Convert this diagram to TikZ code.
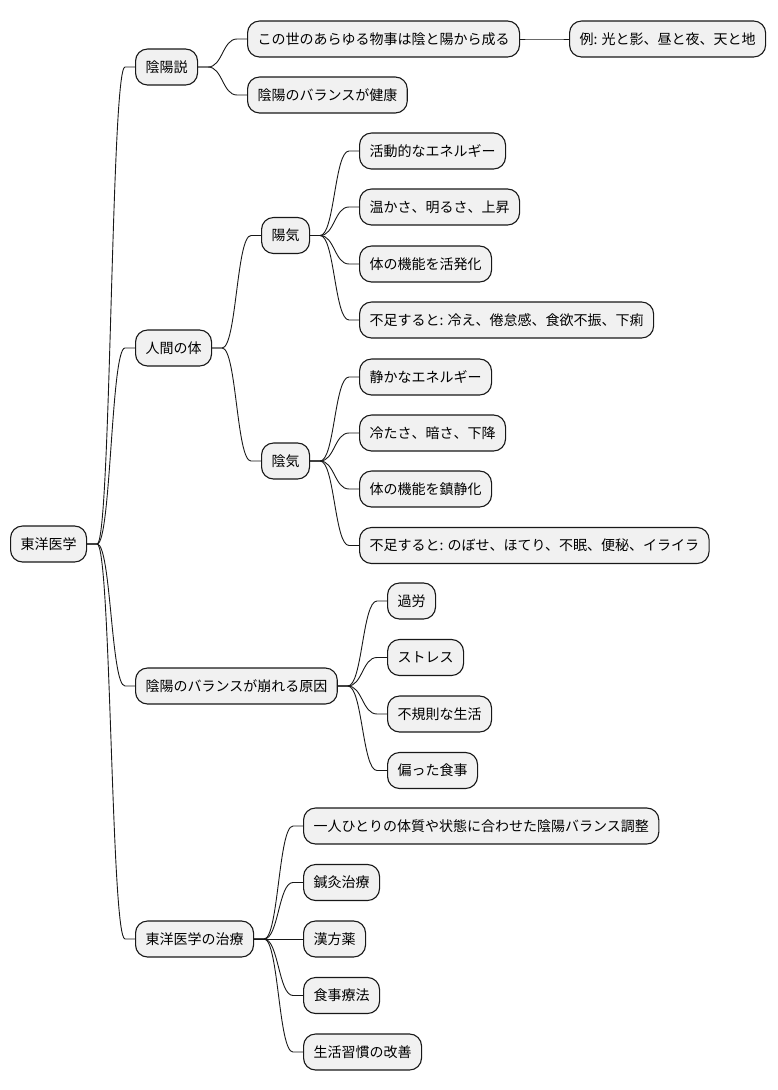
\documentclass[tikz,border=0pt]{standalone}
\usepackage{fontspec}
\setmainfont{Noto Sans CJK JP}
\usetikzlibrary{calc}
\definecolor{nodefill}{HTML}{F1F1F1}
\definecolor{edgecol}{HTML}{181818}
\tikzset{
  mm/.style={draw=edgecol, fill=nodefill, line width=1.1pt, rounded corners=12pt,
    minimum height=36pt, inner xsep=10pt, inner ysep=0pt, text height=12pt, text depth=2pt,
    anchor=west, font=\fontsize{14}{17}\selectfont},
  conn/.style={draw=edgecol, line width=0.9pt}
}
\newcommand\mmlink[2]{%
  \coordinate (lA) at ([xshift=10pt]#1.east);
  \coordinate (lB) at ([xshift=-10pt]#2.west);
  \coordinate (lM) at ($(lA)!0.5!(lB)$);
  \draw[conn] (#1.east) -- (lA) .. controls (lM|-lA) and (lM|-lB) .. (lB) -- (#2.west);}
\begin{document}
\begin{tikzpicture}[x=1pt,y=-1pt]
\useasboundingbox (0,0) rectangle (778,1090);
\node[mm] (root) at (10,544) {東洋医学};
\node[mm] (yys) at (135,67) {陰陽説};
\node[mm] (yys1) at (247,39) {この世のあらゆる物事は陰と陽から成る};
\node[mm] (yys1a) at (569,39) {例: 光と影、昼と夜、天と地};
\node[mm] (yys2) at (247,95) {陰陽のバランスが健康};
\node[mm] (body) at (135,348) {人間の体};
\node[mm] (yang) at (261,235.5) {陽気};
\node[mm] (yang1) at (359,151) {活動的なエネルギー};
\node[mm] (yang2) at (359,207) {温かさ、明るさ、上昇};
\node[mm] (yang3) at (359,264) {体の機能を活発化};
\node[mm] (yang4) at (359,320) {不足すると: 冷え、倦怠感、食欲不振、下痢};
\node[mm] (yin) at (261,461) {陰気};
\node[mm] (yin1) at (359,377) {静かなエネルギー};
\node[mm] (yin2) at (359,433) {冷たさ、暗さ、下降};
\node[mm] (yin3) at (359,489) {体の機能を鎮静化};
\node[mm] (yin4) at (359,545.5) {不足すると: のぼせ、ほてり、不眠、便秘、イライラ};
\node[mm] (cause) at (135,686) {陰陽のバランスが崩れる原因};
\node[mm] (c1) at (387,601) {過労};
\node[mm] (c2) at (387,657.5) {ストレス};
\node[mm] (c3) at (387,714) {不規則な生活};
\node[mm] (c4) at (387,770.5) {偏った食事};
\node[mm] (treat) at (135,939) {東洋医学の治療};
\node[mm] (t1) at (303,826) {一人ひとりの体質や状態に合わせた陰陽バランス調整};
\node[mm] (t2) at (303,882.5) {鍼灸治療};
\node[mm] (t3) at (303,939) {漢方薬};
\node[mm] (t4) at (303,995.5) {食事療法};
\node[mm] (t5) at (303,1052) {生活習慣の改善};
\mmlink{root}{yys}
\mmlink{root}{body}
\mmlink{root}{cause}
\mmlink{root}{treat}
\mmlink{yys}{yys1}
\mmlink{yys}{yys2}
\mmlink{yys1}{yys1a}
\mmlink{body}{yang}
\mmlink{body}{yin}
\mmlink{yang}{yang1}
\mmlink{yang}{yang2}
\mmlink{yang}{yang3}
\mmlink{yang}{yang4}
\mmlink{yin}{yin1}
\mmlink{yin}{yin2}
\mmlink{yin}{yin3}
\mmlink{yin}{yin4}
\mmlink{cause}{c1}
\mmlink{cause}{c2}
\mmlink{cause}{c3}
\mmlink{cause}{c4}
\mmlink{treat}{t1}
\mmlink{treat}{t2}
\mmlink{treat}{t3}
\mmlink{treat}{t4}
\mmlink{treat}{t5}
\end{tikzpicture}
\end{document}
